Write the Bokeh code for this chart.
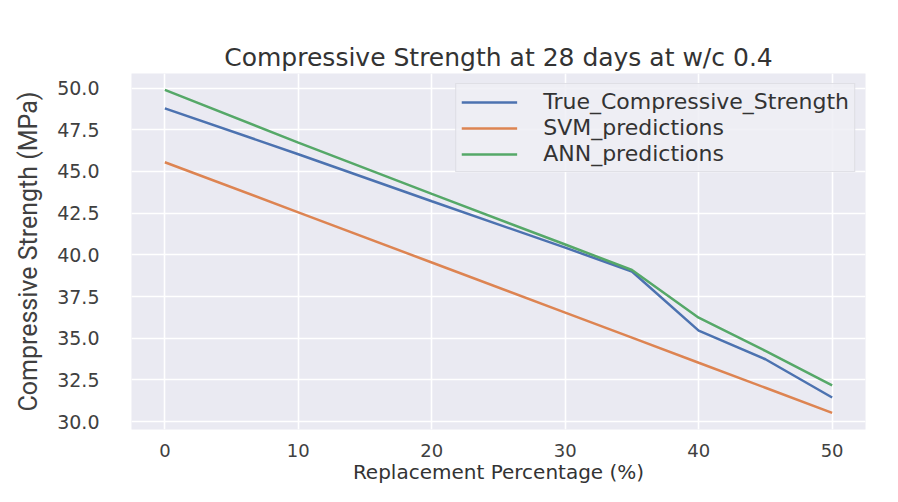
from bokeh.plotting import figure
from bokeh.models import (FixedTicker, PrintfTickFormatter, Range1d, Legend,
                          LegendItem)
from bokeh.embed import file_html
from bokeh.resources import INLINE

# ---- data ----
replacement = [0, 10, 20, 30, 35, 40, 45, 50]
true_strength = [48.78, 46.03, 43.21, 40.43, 39.0, 35.46, 33.74, 31.45]
svm_pred = [45.55, 42.55, 39.54, 36.54, 35.04, 33.53, 32.03, 30.53]
ann_pred = [49.89, 46.73, 43.65, 40.62, 39.09, 36.23, 34.24, 32.18]
series_names = ["True_Compressive_Strength", "SVM_predictions", "ANN_predictions"]
x_ticks = [0, 10, 20, 30, 40, 50]
y_ticks = [30.0, 32.5, 35.0, 37.5, 40.0, 42.5, 45.0, 47.5, 50.0]

colors = ["#4c72b0", "#dd8452", "#55a868"]
TXT = "#333333"

p = figure(width=882, height=486, output_backend="svg", toolbar_location=None,
           x_range=Range1d(-2.5, 52.5), y_range=Range1d(29.53, 50.87),
           min_border_left=131, min_border_right=17, min_border_top=73,
           min_border_bottom=40, background_fill_color="#eaeaf2",
           border_fill_color="white", outline_line_color=None)

p.title.text = "Compressive Strength at 28 days at w/c 0.4"
p.title.align = "center"
p.title.text_font = "DejaVu Sans"
p.title.text_font_size = "25px"
p.title.text_font_style = "normal"
p.title.text_color = TXT
p.title.standoff = 3

for ax in (p.xaxis[0], p.yaxis[0]):
    ax.major_tick_line_color = None
    ax.minor_tick_line_color = None
    ax.axis_line_color = None
    ax.major_label_text_font = "DejaVu Sans"
    ax.major_label_text_font_size = "19px"
    ax.major_label_text_color = "#404040"

p.xaxis.major_label_text_font_size = "18px"
p.xaxis.ticker = FixedTicker(ticks=x_ticks)
p.yaxis.ticker = FixedTicker(ticks=y_ticks)
p.yaxis.formatter = PrintfTickFormatter(format="%.1f")
p.xaxis.major_label_standoff = 8
p.yaxis.major_label_standoff = 26

p.xaxis.axis_label = "Replacement Percentage (%)"
p.xaxis.axis_label_text_font = "DejaVu Sans"
p.xaxis.axis_label_text_font_size = "20px"
p.xaxis.axis_label_text_font_style = "normal"
p.xaxis.axis_label_text_color = TXT
p.xaxis.axis_label_standoff = 0

p.yaxis.axis_label = "Compressive Strength (MPa)"
p.yaxis.axis_label_text_font = "Roboto"
p.yaxis.axis_label_text_font_size = "25px"
p.yaxis.axis_label_text_font_style = "normal"
p.yaxis.axis_label_text_color = "#404040"
p.yaxis.axis_label_standoff = 11

for g in (p.xgrid[0], p.ygrid[0]):
    g.grid_line_color = "white"
    g.grid_line_width = 1.6

r_true = p.line(replacement, true_strength, line_color=colors[0], line_width=2.5)
r_svm = p.line(replacement, svm_pred, line_color=colors[1], line_width=2.5)
r_ann = p.line(replacement, ann_pred, line_color=colors[2], line_width=2.5)

legend = Legend(items=[LegendItem(label=series_names[0], renderers=[r_true]),
                       LegendItem(label=series_names[1], renderers=[r_svm]),
                       LegendItem(label=series_names[2], renderers=[r_ann])],
                location="top_right", margin=10, padding=5, spacing=1,
                glyph_width=56, glyph_height=22, label_height=22,
                label_standoff=26, label_text_font="DejaVu Sans",
                label_text_font_size="22px", label_text_color=TXT,
                background_fill_color="#eeeef4", background_fill_alpha=0.85,
                border_line_color="#cfcfd6", border_line_width=1)
p.add_layout(legend, "center")

open("out.html", "w").write(file_html(p, INLINE))
